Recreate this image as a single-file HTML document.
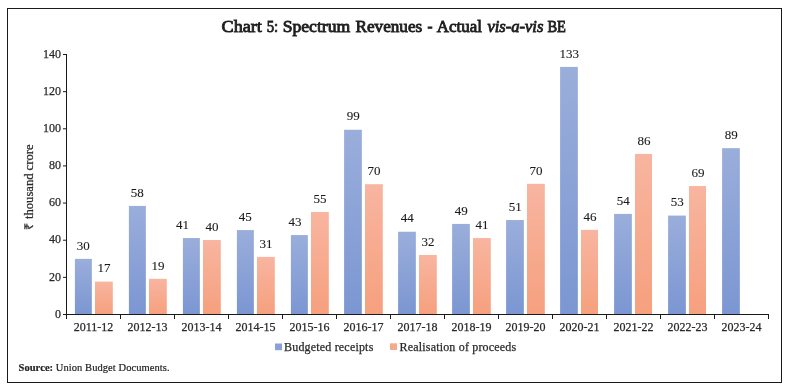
<!DOCTYPE html><html><head><meta charset="utf-8"><style>
html,body{margin:0;padding:0;background:#fff;width:788px;height:389px;overflow:hidden}
svg{display:block;will-change:transform}
text{font-family:"Liberation Serif", serif;}
.s{stroke:#2a2a2a;stroke-width:0.25px;fill:#2a2a2a}
.d{stroke:#1a1a1a;stroke-width:0.1px;fill:#1a1a1a}
</style></head><body>
<svg width="788" height="389" viewBox="0 0 788 389">
<defs>
<linearGradient id="gb" x1="0" y1="0" x2="0" y2="1">
<stop offset="0" stop-color="#9aaedb"/><stop offset="1" stop-color="#7b96d2"/>
</linearGradient>
<linearGradient id="go" x1="0" y1="0" x2="0" y2="1">
<stop offset="0" stop-color="#f8b5a0"/><stop offset="1" stop-color="#f6a07e"/>
</linearGradient>
</defs>
<rect x="0" y="0" width="788" height="389" fill="#fff"/>
<rect x="7.5" y="8.5" width="774" height="374" fill="none" stroke="#1a1a1a" stroke-width="1"/>

<text x="221.6" y="31.6" font-size="16.5" fill="#1f1f1f" stroke="#1f1f1f" stroke-width="0.85" lengthAdjust="spacingAndGlyphs" textLength="40.2">Chart</text>
<text x="266.7" y="31.6" font-size="16.5" fill="#1f1f1f" stroke="#1f1f1f" stroke-width="0.85" lengthAdjust="spacingAndGlyphs" textLength="11.5">5:</text>
<text x="282.7" y="31.6" font-size="16.5" fill="#1f1f1f" stroke="#1f1f1f" stroke-width="0.85" lengthAdjust="spacingAndGlyphs" textLength="67.5">Spectrum</text>
<text x="355.5" y="31.6" font-size="16.5" fill="#1f1f1f" stroke="#1f1f1f" stroke-width="0.85" lengthAdjust="spacingAndGlyphs" textLength="66.7">Revenues</text>
<text x="427.5" y="31.6" font-size="16.5" fill="#1f1f1f" stroke="#1f1f1f" stroke-width="0.85" lengthAdjust="spacingAndGlyphs" textLength="5.0">-</text>
<text x="436.8" y="31.6" font-size="16.5" fill="#1f1f1f" stroke="#1f1f1f" stroke-width="0.85" lengthAdjust="spacingAndGlyphs" textLength="45.1">Actual</text>
<text x="487.4" y="31.6" font-size="16.5" fill="#1f1f1f" stroke="#1f1f1f" stroke-width="0.85" lengthAdjust="spacingAndGlyphs" font-style="italic" textLength="56.0">vis-a-vis</text>
<text x="547.4" y="31.6" font-size="16.5" fill="#1f1f1f" stroke="#1f1f1f" stroke-width="0.85" lengthAdjust="spacingAndGlyphs" textLength="18.5">BE</text>
<path d="M66.5 54 V319 M66 314.5 H769 M768.5 314 V319" stroke="#1a1a1a" stroke-width="1" fill="none"/>
<path d="M63 314.50 H66.5" stroke="#1a1a1a" stroke-width="1"/>
<text x="61" y="317.70" font-size="12" class="s" text-anchor="end">0</text>
<path d="M63 277.36 H66.5" stroke="#1a1a1a" stroke-width="1"/>
<text x="61" y="280.56" font-size="12" class="s" text-anchor="end">20</text>
<path d="M63 240.21 H66.5" stroke="#1a1a1a" stroke-width="1"/>
<text x="61" y="243.41" font-size="12" class="s" text-anchor="end">40</text>
<path d="M63 203.07 H66.5" stroke="#1a1a1a" stroke-width="1"/>
<text x="61" y="206.27" font-size="12" class="s" text-anchor="end">60</text>
<path d="M63 165.93 H66.5" stroke="#1a1a1a" stroke-width="1"/>
<text x="61" y="169.13" font-size="12" class="s" text-anchor="end">80</text>
<path d="M63 128.79 H66.5" stroke="#1a1a1a" stroke-width="1"/>
<text x="61" y="131.99" font-size="12" class="s" text-anchor="end">100</text>
<path d="M63 91.64 H66.5" stroke="#1a1a1a" stroke-width="1"/>
<text x="61" y="94.84" font-size="12" class="s" text-anchor="end">120</text>
<path d="M63 54.50 H66.5" stroke="#1a1a1a" stroke-width="1"/>
<text x="61" y="57.70" font-size="12" class="s" text-anchor="end">140</text>
<path d="M120.5 314 V319" stroke="#1a1a1a" stroke-width="1"/>
<path d="M174.5 314 V319" stroke="#1a1a1a" stroke-width="1"/>
<path d="M228.5 314 V319" stroke="#1a1a1a" stroke-width="1"/>
<path d="M282.5 314 V319" stroke="#1a1a1a" stroke-width="1"/>
<path d="M336.5 314 V319" stroke="#1a1a1a" stroke-width="1"/>
<path d="M390.5 314 V319" stroke="#1a1a1a" stroke-width="1"/>
<path d="M444.5 314 V319" stroke="#1a1a1a" stroke-width="1"/>
<path d="M498.5 314 V319" stroke="#1a1a1a" stroke-width="1"/>
<path d="M552.5 314 V319" stroke="#1a1a1a" stroke-width="1"/>
<path d="M606.5 314 V319" stroke="#1a1a1a" stroke-width="1"/>
<path d="M660.5 314 V319" stroke="#1a1a1a" stroke-width="1"/>
<path d="M714.5 314 V319" stroke="#1a1a1a" stroke-width="1"/>
<rect x="74.90" y="258.84" width="16.95" height="55.16" fill="url(#gb)"/>
<text x="83.20" y="249.56" font-size="13" class="d" text-anchor="middle">30</text>
<rect x="95.00" y="281.59" width="17.80" height="32.41" fill="url(#go)"/>
<text x="103.95" y="272.31" font-size="13" class="d" text-anchor="middle">17</text>
<text x="93.50" y="331" font-size="12" class="s" text-anchor="middle">2011-12</text>
<rect x="128.90" y="205.91" width="16.95" height="108.09" fill="url(#gb)"/>
<text x="137.20" y="196.63" font-size="13" class="d" text-anchor="middle">58</text>
<rect x="149.00" y="278.81" width="17.80" height="35.19" fill="url(#go)"/>
<text x="157.95" y="269.52" font-size="13" class="d" text-anchor="middle">19</text>
<text x="147.50" y="331" font-size="12" class="s" text-anchor="middle">2012-13</text>
<rect x="182.90" y="238.04" width="16.95" height="75.96" fill="url(#gb)"/>
<text x="182.40" y="228.76" font-size="13" class="d" text-anchor="middle">41</text>
<rect x="203.00" y="239.99" width="17.80" height="74.01" fill="url(#go)"/>
<text x="211.95" y="230.71" font-size="13" class="d" text-anchor="middle">40</text>
<text x="201.50" y="331" font-size="12" class="s" text-anchor="middle">2013-14</text>
<rect x="236.90" y="230.06" width="16.95" height="83.94" fill="url(#gb)"/>
<text x="245.20" y="220.77" font-size="13" class="d" text-anchor="middle">45</text>
<rect x="257.00" y="256.89" width="17.80" height="57.11" fill="url(#go)"/>
<text x="265.95" y="247.61" font-size="13" class="d" text-anchor="middle">31</text>
<text x="255.50" y="331" font-size="12" class="s" text-anchor="middle">2014-15</text>
<rect x="290.90" y="235.07" width="16.95" height="78.93" fill="url(#gb)"/>
<text x="295.00" y="225.79" font-size="13" class="d" text-anchor="middle">43</text>
<rect x="311.00" y="212.04" width="17.80" height="101.96" fill="url(#go)"/>
<text x="319.95" y="202.76" font-size="13" class="d" text-anchor="middle">55</text>
<text x="309.50" y="331" font-size="12" class="s" text-anchor="middle">2015-16</text>
<rect x="344.10" y="129.77" width="17.75" height="184.23" fill="url(#gb)"/>
<text x="353.20" y="120.49" font-size="13" class="d" text-anchor="middle">99</text>
<rect x="365.00" y="184.19" width="17.80" height="129.81" fill="url(#go)"/>
<text x="373.95" y="174.90" font-size="13" class="d" text-anchor="middle">70</text>
<text x="363.50" y="331" font-size="12" class="s" text-anchor="middle">2016-17</text>
<rect x="398.10" y="231.73" width="17.75" height="82.27" fill="url(#gb)"/>
<text x="407.20" y="222.44" font-size="13" class="d" text-anchor="middle">44</text>
<rect x="419.00" y="254.94" width="17.80" height="59.06" fill="url(#go)"/>
<text x="427.95" y="245.66" font-size="13" class="d" text-anchor="middle">32</text>
<text x="417.50" y="331" font-size="12" class="s" text-anchor="middle">2017-18</text>
<rect x="452.10" y="223.93" width="17.75" height="90.07" fill="url(#gb)"/>
<text x="461.20" y="214.64" font-size="13" class="d" text-anchor="middle">49</text>
<rect x="473.00" y="238.04" width="17.80" height="75.96" fill="url(#go)"/>
<text x="481.95" y="228.76" font-size="13" class="d" text-anchor="middle">41</text>
<text x="471.50" y="331" font-size="12" class="s" text-anchor="middle">2018-19</text>
<rect x="506.10" y="220.03" width="17.75" height="93.97" fill="url(#gb)"/>
<text x="515.20" y="210.74" font-size="13" class="d" text-anchor="middle">51</text>
<rect x="527.00" y="183.81" width="17.80" height="130.19" fill="url(#go)"/>
<text x="535.95" y="174.53" font-size="13" class="d" text-anchor="middle">70</text>
<text x="525.50" y="331" font-size="12" class="s" text-anchor="middle">2019-20</text>
<rect x="560.10" y="66.91" width="17.75" height="247.09" fill="url(#gb)"/>
<text x="569.20" y="57.62" font-size="13" class="d" text-anchor="middle">133</text>
<rect x="581.00" y="229.87" width="17.00" height="84.13" fill="url(#go)"/>
<text x="589.95" y="220.59" font-size="13" class="d" text-anchor="middle">46</text>
<text x="579.50" y="331" font-size="12" class="s" text-anchor="middle">2020-21</text>
<rect x="614.10" y="213.90" width="17.75" height="100.10" fill="url(#gb)"/>
<text x="623.20" y="204.62" font-size="13" class="d" text-anchor="middle">54</text>
<rect x="635.00" y="153.91" width="17.00" height="160.09" fill="url(#go)"/>
<text x="643.95" y="144.63" font-size="13" class="d" text-anchor="middle">86</text>
<text x="633.50" y="331" font-size="12" class="s" text-anchor="middle">2021-22</text>
<rect x="668.10" y="215.57" width="17.75" height="98.43" fill="url(#gb)"/>
<text x="677.20" y="206.29" font-size="13" class="d" text-anchor="middle">53</text>
<rect x="689.00" y="186.04" width="17.00" height="127.96" fill="url(#go)"/>
<text x="697.95" y="176.76" font-size="13" class="d" text-anchor="middle">69</text>
<text x="687.50" y="331" font-size="12" class="s" text-anchor="middle">2022-23</text>
<rect x="722.10" y="148.16" width="17.75" height="165.84" fill="url(#gb)"/>
<text x="731.20" y="138.87" font-size="13" class="d" text-anchor="middle">89</text>
<text x="741.50" y="331" font-size="12" class="s" text-anchor="middle">2023-24</text>
<text transform="translate(33.4 187) rotate(-90)" font-size="12" class="s" text-anchor="middle" textLength="85" lengthAdjust="spacingAndGlyphs">₹ thousand crore</text>
<rect x="275" y="343.5" width="7" height="6.7" fill="#8ba0d6"/>
<text x="284" y="350.6" font-size="12" class="s" textLength="89.3" lengthAdjust="spacing">Budgeted receipts</text>
<rect x="390" y="343.3" width="7" height="6.7" fill="#f5aa8d"/>
<text x="399.6" y="350.6" font-size="12" class="s" textLength="116.5" lengthAdjust="spacing">Realisation of proceeds</text>
<text x="18.5" y="371.1" font-size="10.5" fill="#1f1f1f" stroke="#1f1f1f" stroke-width="0.2" textLength="151" lengthAdjust="spacing"><tspan font-weight="bold">Source:</tspan> Union Budget Documents.</text>
</svg></body></html>
